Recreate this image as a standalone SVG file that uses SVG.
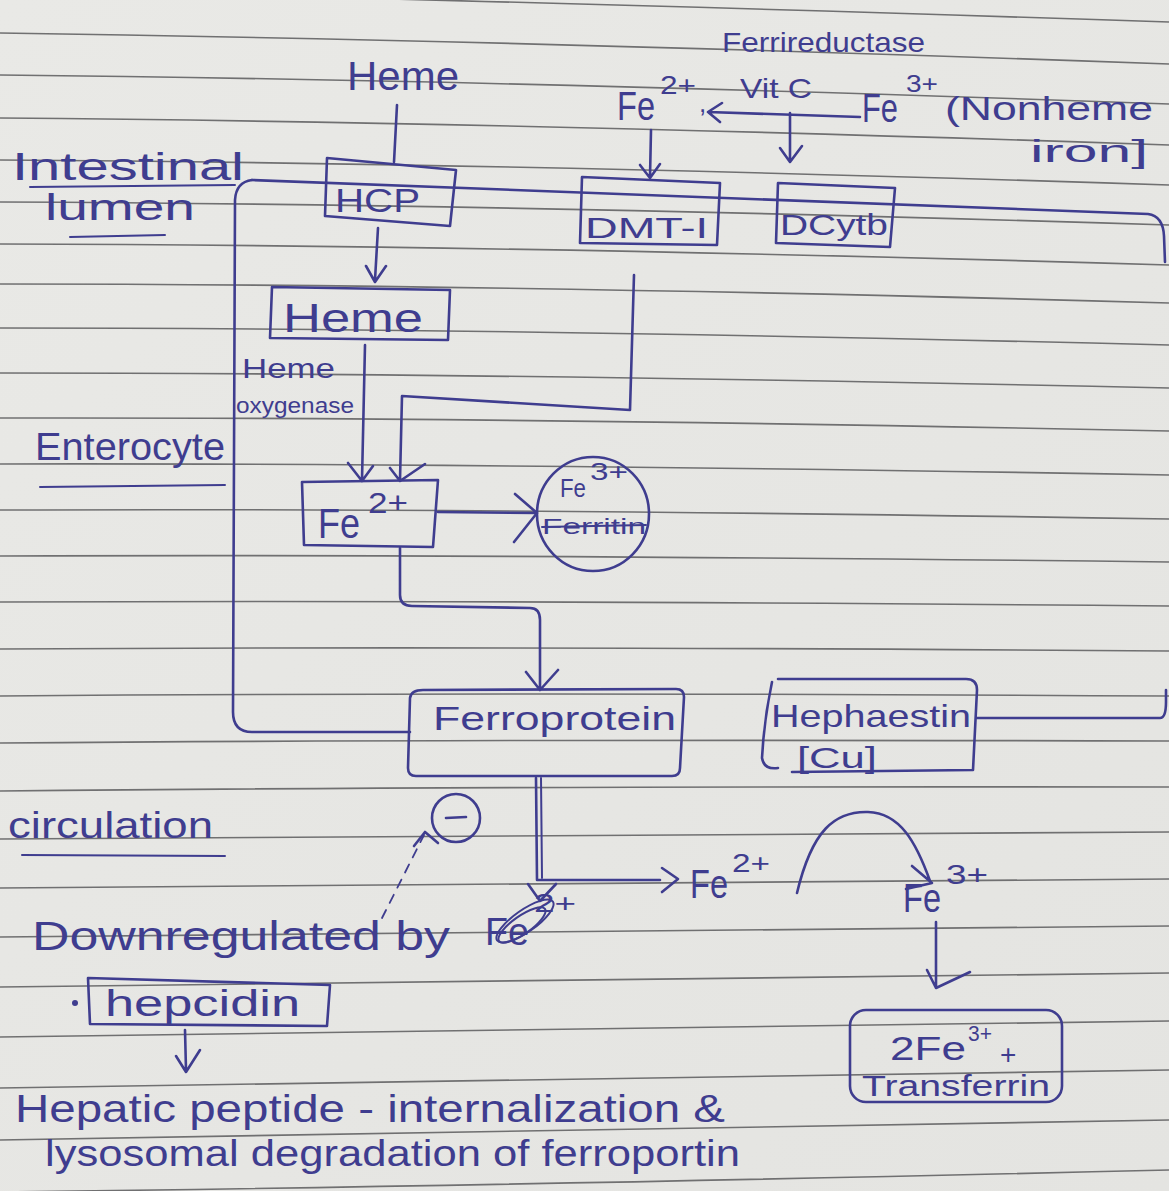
<svg xmlns="http://www.w3.org/2000/svg" width="1169" height="1191" viewBox="0 0 1169 1191">
<defs>
<linearGradient id="paper" x1="0" y1="0" x2="1" y2="1">
<stop offset="0" stop-color="#e9e9e6"/>
<stop offset="1" stop-color="#e4e4e1"/>
</linearGradient>
<style>
.rule{stroke:#707071;stroke-width:1.6;fill:none}
.ink{stroke:#3f3d8f;stroke-width:2.6;fill:none;stroke-linecap:round;stroke-linejoin:round}
.thin{stroke:#3f3d8f;stroke-width:2;fill:none;stroke-linecap:round;stroke-linejoin:round}
.dash{stroke:#3f3d8f;stroke-width:1.8;fill:none;stroke-dasharray:9 8;stroke-linecap:round}
text{font-family:"Liberation Sans","DejaVu Sans",sans-serif;fill:#3f3d8f}
</style>
</defs>
<rect width="1169" height="1191" fill="url(#paper)"/>
<g id="ruling">
<path class="rule" d="M0,-10 Q500,0 1169,22"/>
<path class="rule" d="M0,33 Q500,40 1169,64"/>
<path class="rule" d="M0,75 Q500,80 1169,104"/>
<path class="rule" d="M0,118 Q500,122 1169,145"/>
<path class="rule" d="M0,160 Q500,163 1169,185"/>
<path class="rule" d="M0,202 Q500,204 1169,225"/>
<path class="rule" d="M0,244 Q500,245 1169,265"/>
<path class="rule" d="M0,284 Q500,284 1169,303"/>
<path class="rule" d="M0,328 Q500,328 1169,345"/>
<path class="rule" d="M0,373 Q500,373 1169,388"/>
<path class="rule" d="M0,418 Q500,417 1169,431"/>
<path class="rule" d="M0,464 Q500,463 1169,475"/>
<path class="rule" d="M0,510 Q500,508 1169,519"/>
<path class="rule" d="M0,556 Q500,554 1169,562"/>
<path class="rule" d="M0,602 Q500,600 1169,606"/>
<path class="rule" d="M0,649 Q500,646 1169,651"/>
<path class="rule" d="M0,696 Q500,692 1169,696"/>
<path class="rule" d="M0,743 Q500,739 1169,741"/>
<path class="rule" d="M0,791 Q500,786 1169,787"/>
<path class="rule" d="M0,839 Q500,834 1169,832"/>
<path class="rule" d="M0,888 Q500,882 1169,879"/>
<path class="rule" d="M0,937 Q500,931 1169,926"/>
<path class="rule" d="M0,987 Q500,981 1169,973"/>
<path class="rule" d="M0,1037 Q500,1031 1169,1021"/>
<path class="rule" d="M0,1088 Q500,1082 1169,1070"/>
<path class="rule" d="M0,1140 Q500,1134 1169,1120"/>
<path class="rule" d="M0,1192 Q500,1186 1169,1170"/>
</g>
<g id="membrane">
<path class="ink" d="M252,180 Q236,182 235,200 L233,712 Q233,732 252,732 L410,732"/>
<path class="ink" d="M252,180 L1148,214 Q1163,216 1164,236 L1165,262"/>
<path class="ink" d="M977,718 L1160,718 Q1166,718 1166,702 L1166,690"/>
</g>
<g id="labels">
<text x="12" y="180" font-size="38" textLength="232" lengthAdjust="spacingAndGlyphs">Intestinal</text>
<path class="thin" d="M30,187 L235,185"/>
<text x="45" y="220" font-size="36" textLength="150" lengthAdjust="spacingAndGlyphs">lumen</text>
<path class="thin" d="M70,237 L165,235"/>
<text x="35" y="460" font-size="38" textLength="190" lengthAdjust="spacingAndGlyphs">Enterocyte</text>
<path class="thin" d="M40,487 L225,485"/>
<text x="8" y="838" font-size="36" textLength="205" lengthAdjust="spacingAndGlyphs">circulation</text>
<path class="thin" d="M22,855 L225,856"/>
</g>
<g id="ferrireductase">
<text x="722" y="52" font-size="28" textLength="203" lengthAdjust="spacingAndGlyphs">Ferrireductase</text>
</g>
<g id="heme-lumen">
<text x="347" y="90" font-size="40" textLength="112" lengthAdjust="spacingAndGlyphs">Heme</text>
</g>
<g id="fe2-lumen">
<text x="617" y="120" font-size="40" textLength="38" lengthAdjust="spacingAndGlyphs">Fe</text>
<text x="660" y="94" font-size="26" textLength="36" lengthAdjust="spacingAndGlyphs">2+</text>
<text x="699" y="112" font-size="26">,</text>
</g>
<g id="vitc">
<text x="740" y="98" font-size="28" textLength="72" lengthAdjust="spacingAndGlyphs">Vit C</text>
</g>
<g id="fe3-lumen">
<text x="862" y="122" font-size="40" textLength="36" lengthAdjust="spacingAndGlyphs">Fe</text>
<text x="906" y="92" font-size="24" textLength="32" lengthAdjust="spacingAndGlyphs">3+</text>
<text x="945" y="120" font-size="34" textLength="208" lengthAdjust="spacingAndGlyphs">(Nonheme</text>
<text x="1030" y="162" font-size="32" textLength="118" lengthAdjust="spacingAndGlyphs">iron]</text>
</g>
<g id="hcp">
<path class="ink" d="M327,158 L456,170 L450,226 L325,216 Z"/>
<text x="335" y="212" font-size="34" textLength="85" lengthAdjust="spacingAndGlyphs">HCP</text>
</g>
<g id="dmt1">
<path class="ink" d="M582,177 L720,183 L717,245 L580,243 Z"/>
<text x="585" y="238" font-size="30" textLength="123" lengthAdjust="spacingAndGlyphs">DMT-I</text>
</g>
<g id="dcytb">
<path class="ink" d="M778,183 L895,188 L890,247 L776,243 Z"/>
<text x="780" y="235" font-size="30" textLength="108" lengthAdjust="spacingAndGlyphs">DCytb</text>
</g>
<g id="heme-cell">
<path class="ink" d="M272,287 L450,290 L448,340 L270,338 Z"/>
<text x="283" y="332" font-size="40" textLength="140" lengthAdjust="spacingAndGlyphs">Heme</text>
</g>
<g id="heme-oxygenase">
<text x="242" y="378" font-size="28" textLength="93" lengthAdjust="spacingAndGlyphs">Heme</text>
<text x="236" y="413" font-size="22" textLength="118" lengthAdjust="spacingAndGlyphs">oxygenase</text>
</g>
<g id="fe2-cell">
<path class="ink" d="M302,482 L438,480 L433,547 L304,545 Z"/>
<text x="318" y="538" font-size="42" textLength="42" lengthAdjust="spacingAndGlyphs">Fe</text>
<text x="368" y="513" font-size="30" textLength="40" lengthAdjust="spacingAndGlyphs">2+</text>
</g>
<g id="ferritin">
<ellipse class="ink" cx="593" cy="514" rx="56" ry="57"/>
<text x="560" y="497" font-size="26" textLength="26" lengthAdjust="spacingAndGlyphs">Fe</text>
<text x="590" y="480" font-size="24" textLength="38" lengthAdjust="spacingAndGlyphs">3+</text>
<text x="542" y="534" font-size="22" textLength="104" lengthAdjust="spacingAndGlyphs">Ferritin</text>
<path class="thin" d="M542,527 L646,525"/>
</g>
<g id="ferroportin">
<path class="ink" d="M423,690 L676,689 Q684,689 684,697 L680,768 Q680,776 672,776 L416,776 Q408,776 408,768 L410,698 Q411,690 423,690 Z"/>
<text x="433" y="730" font-size="34" textLength="243" lengthAdjust="spacingAndGlyphs">Ferroprotein</text>
</g>
<g id="hephaestin">
<path class="ink" d="M778,679 L966,679 Q977,679 977,690 L973,770 L792,772 M772,682 Q764,720 762,758 Q764,770 778,768"/>
<text x="771" y="727" font-size="32" textLength="200" lengthAdjust="spacingAndGlyphs">Hephaestin</text>
<text x="797" y="768" font-size="30" textLength="80" lengthAdjust="spacingAndGlyphs">[Cu]</text>
</g>
<g id="inhibit">
<circle class="ink" cx="456" cy="818" r="24"/>
<path class="ink" d="M446,818 L466,817"/>
</g>
<g id="fe2-blood">
<text x="690" y="898" font-size="40" textLength="38" lengthAdjust="spacingAndGlyphs">Fe</text>
<text x="732" y="872" font-size="26" textLength="38" lengthAdjust="spacingAndGlyphs">2+</text>
</g>
<g id="fe3-blood">
<text x="903" y="912" font-size="40" textLength="38" lengthAdjust="spacingAndGlyphs">Fe</text>
<text x="946" y="884" font-size="28" textLength="42" lengthAdjust="spacingAndGlyphs">3+</text>
</g>
<g id="downregulated">
<text x="32" y="950" font-size="40" textLength="418" lengthAdjust="spacingAndGlyphs">Downregulated by</text>
<text x="485" y="945" font-size="38" textLength="44" lengthAdjust="spacingAndGlyphs">Fe</text>
<text x="534" y="912" font-size="26" textLength="42" lengthAdjust="spacingAndGlyphs">2+</text>
<ellipse class="thin" cx="525" cy="921" rx="34" ry="11" transform="rotate(-35 525 921)"/>
<ellipse class="thin" cx="522" cy="925" rx="28" ry="9" transform="rotate(-35 522 925)"/>
</g>
<g id="hepcidin">
<circle cx="75" cy="1003" r="3" fill="#3f3d8f"/>
<path class="ink" d="M88,978 L330,985 L327,1026 L90,1024 Z"/>
<text x="105" y="1016" font-size="36" textLength="195" lengthAdjust="spacingAndGlyphs">hepcidin</text>
</g>
<g id="transferrin">
<rect class="ink" x="850" y="1010" width="212" height="92" rx="16"/>
<text x="890" y="1060" font-size="34" textLength="76" lengthAdjust="spacingAndGlyphs">2Fe</text>
<text x="968" y="1041" font-size="22" textLength="24" lengthAdjust="spacingAndGlyphs">3+</text>
<text x="1000" y="1064" font-size="28">+</text>
<text x="862" y="1096" font-size="30" textLength="188" lengthAdjust="spacingAndGlyphs">Transferrin</text>
</g>
<g id="hepatic-note">
<text x="15" y="1122" font-size="38" textLength="710" lengthAdjust="spacingAndGlyphs">Hepatic peptide - internalization &amp;</text>
<text x="45" y="1166" font-size="36" textLength="695" lengthAdjust="spacingAndGlyphs">lysosomal degradation of ferroportin</text>
</g>
<g id="connectors">
<path class="ink" d="M397,105 L394,162"/>
<path class="ink" d="M860,117 L708,112 M722,103 L708,112 L720,122"/>
<path class="ink" d="M790,113 L790,160 M780,148 L790,162 L802,146"/>
<path class="ink" d="M651,130 L650,177 M640,165 L650,178 L660,164"/>
<path class="ink" d="M378,228 L375,280 M366,266 L375,282 L386,266"/>
<path class="ink" d="M365,345 L362,480 M348,463 L362,481 L373,466"/>
<path class="ink" d="M634,275 L630,410 L402,396 L400,480 M390,468 L400,481 L425,464"/>
<path class="ink" d="M438,512 L537,513 M515,494 L537,513 L514,542"/>
<path class="ink" d="M400,548 L400,595 Q400,606 412,606 L530,608 Q540,608 540,620 L540,688 M526,672 L540,690 L558,670"/>
<path class="ink" d="M536,778 L537,880 L660,880 M662,868 L678,879 L662,892"/>
<path class="thin" d="M541,778 L542,878"/>
<path class="ink" d="M528,884 L540,901 L556,884"/>
<path class="ink" d="M797,893 C812,830 835,811 868,812 C900,813 916,842 930,881 M912,866 L932,883 L906,889"/>
<path class="ink" d="M936,922 L936,988 M927,970 L936,988 L970,972"/>
<path class="ink" d="M185,1030 L186,1070 M176,1056 L186,1072 L200,1050"/>
<path class="dash" d="M382,918 L424,835"/>
<path class="ink" d="M414,846 L425,832 L438,843"/>
</g>
</svg>
